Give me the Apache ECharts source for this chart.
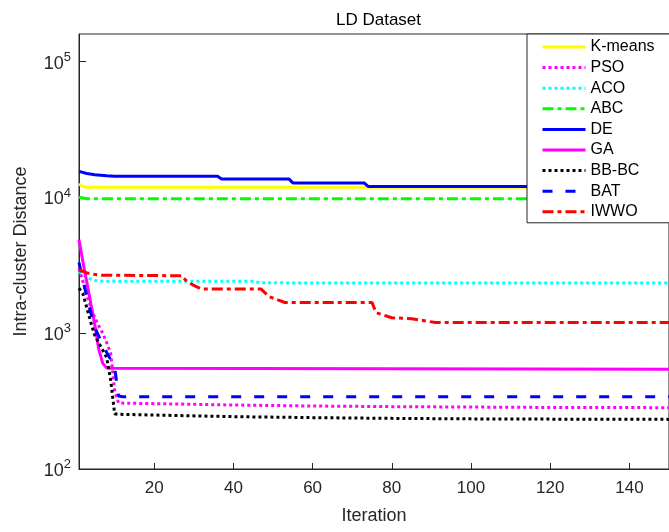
<!DOCTYPE html>
<html>
<head>
<meta charset="utf-8">
<title>LD Dataset</title>
<script src="https://cdn.jsdelivr.net/npm/echarts@6/dist/echarts.min.js"></script>
<style>
  html, body { margin: 0; padding: 0; background: #fff; }
  #chart { width: 669px; height: 532px; }
</style>
</head>
<body>
<div id="chart"></div>
<script>
// Convergence curves: [iteration, intra-cluster distance]
const kmeans = [[1, 12580], [2, 12050], [3, 11900], [150, 11900]];
const pso    = [[1, 3000], [2, 2400], [3, 1900], [4, 1550], [5, 1300], [6, 1130], [7, 1000], [8, 850], [9, 713], [10, 380], [11, 306], [20, 303], [40, 296], [60, 291], [80, 288], [100, 286], [120, 284], [150, 283]];
const aco    = [[1, 2850], [3, 2560], [5, 2450], [7, 2420], [45, 2410], [47, 2350], [150, 2340]];
const abc    = [[1, 10050], [3, 9780], [150, 9780]];
const de     = [[1, 15570], [3, 15000], [5, 14700], [8, 14450], [10, 14310], [36, 14310], [37, 13700], [54, 13700], [55, 12800], [73, 12800], [74, 12050], [150, 12050]];
const ga     = [[1, 4885], [2, 3350], [3, 2350], [4, 1650], [5, 1150], [6, 760], [7, 600], [8, 555], [9, 553], [150, 544]];
const bbbc   = [[1, 2150], [2, 1950], [3, 1530], [4, 1200], [5, 960], [6, 850], [7, 750], [8, 660], [9, 453], [10, 255], [11, 253], [19, 250], [40, 243], [60, 239], [80, 236], [100, 234], [120, 233], [150, 232]];
const bat    = [[1, 3320], [2, 2450], [3, 1850], [4, 1400], [5, 1100], [6, 950], [7, 830], [8, 720], [9, 640], [10, 560], [11, 345], [12, 341], [150, 341]];
const iwwo   = [[1, 2935], [3, 2780], [6, 2680], [27, 2650], [28, 2450], [30, 2250], [32, 2114], [47, 2114], [49, 1860], [53, 1684], [75, 1684], [76, 1420], [80, 1300], [85, 1280], [91, 1199], [150, 1199]];

const seriesNames = ['K-means', 'PSO', 'ACO', 'ABC', 'DE', 'GA', 'BB-BC', 'BAT', 'IWWO'];
const seriesData  = [kmeans, pso, aco, abc, de, ga, bbbc, bat, iwwo];
const xTicks = [20, 40, 60, 80, 100, 120, 140];

const lineStyles = [
  { color: '#FFFF00', type: 'solid' },
  { color: '#FF00FF', type: [3, 3] },
  { color: '#00FFFF', type: [3, 3] },
  { color: '#00FF00', type: [11, 4, 4, 4] },
  { color: '#0000FF', type: 'solid' },
  { color: '#FF00FF', type: 'solid' },
  { color: '#000000', type: [3, 3] },
  { color: '#0000FF', type: [10, 13] },
  { color: '#FF0000', type: [11, 4, 4, 4] }
];

const FONT = 'Arial, "Liberation Sans", sans-serif';
const INK = '#262626';

const chart = echarts.init(document.getElementById('chart'), null, { renderer: 'canvas' });

chart.setOption({
  backgroundColor: '#ffffff',
  animation: false,
  title: {
    text: 'LD Dataset',
    left: 331,
    top: 7,
    textStyle: { fontFamily: FONT, fontSize: 17, fontWeight: 'normal', color: '#000' }
  },
  grid: {
    left: 79, right: -6, top: 34, bottom: 63,
    show: true, borderColor: INK, borderWidth: 1
  },
  legend: {
    orient: 'vertical',
    left: 527,
    top: 34,
    z: 10,
    padding: [5, 40, 3, 14],
    itemWidth: 43,
    itemHeight: 18,
    itemGap: 4.6,
    backgroundColor: '#ffffff',
    borderColor: INK,
    borderWidth: 1,
    borderRadius: 0,
    // line sample only, no marker on it
    itemStyle: { color: 'rgba(0,0,0,0)', borderWidth: 0, opacity: 0 },
    lineStyle: { width: 3 },
    textStyle: { fontFamily: FONT, fontSize: 16, color: '#000' },
    data: seriesNames
  },
  xAxis: {
    type: 'value',
    min: 1,
    max: 150,
    name: 'Iteration',
    nameLocation: 'middle',
    nameGap: 38,
    nameTextStyle: { fontFamily: FONT, fontSize: 18, color: INK },
    axisLine: { show: true, lineStyle: { color: INK, width: 1 } },
    axisTick: { show: true, inside: true, length: 6, customValues: xTicks, lineStyle: { color: INK } },
    axisLabel: { customValues: xTicks, margin: 11, fontFamily: FONT, fontSize: 17, color: INK },
    splitLine: { show: false }
  },
  yAxis: {
    type: 'log',
    logBase: 10,
    min: 100,
    max: 160000,
    name: 'Intra-cluster Distance',
    nameLocation: 'middle',
    nameGap: 49,
    nameTextStyle: { fontFamily: FONT, fontSize: 18, color: INK },
    axisLine: { show: true, lineStyle: { color: INK, width: 1 } },
    axisTick: { show: true, inside: true, length: 7, lineStyle: { color: INK } },
    axisLabel: {
      margin: 8,
      showMaxLabel: false,
      formatter: function (v) {
        const lg = Math.log10(v);
        const e = Math.round(lg);
        if (Math.abs(lg - e) > 1e-6) return '';
        return '{b|10}{s|' + e + '}';
      },
      rich: {
        b: { fontFamily: FONT, fontSize: 18, color: INK, lineHeight: 22, verticalAlign: 'bottom' },
        s: { fontFamily: FONT, fontSize: 13, color: INK, lineHeight: 22, verticalAlign: 'top' }
      }
    },
    splitLine: { show: false }
  },
  series: seriesNames.map(function (name, i) {
    return {
      name: name,
      type: 'line',
      data: seriesData[i],
      symbol: 'none',
      showSymbol: false,
      smooth: false,
      lineStyle: { color: lineStyles[i].color, width: 3, type: lineStyles[i].type },
      itemStyle: { color: lineStyles[i].color }
    };
  })
});
</script>
</body>
</html>
